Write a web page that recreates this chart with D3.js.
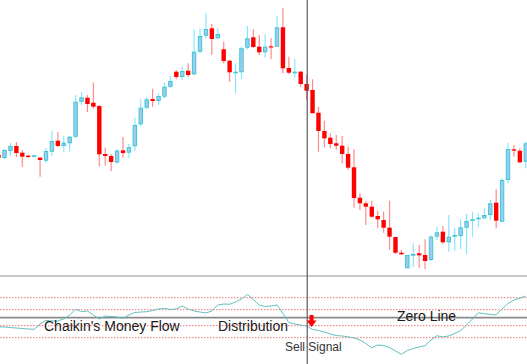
<!DOCTYPE html>
<html>
<head>
<meta charset="utf-8">
<script src="https://cdn.jsdelivr.net/npm/d3@7"></script>
<style>
  body { margin: 0; background: #fff; }
  svg { display: block; }
  text { font-family: "Liberation Sans", Arial, sans-serif; }
</style>
</head>
<body>
<div id="chart"></div>
<script>
var opens = [125,122,129,134,127.3,124.3,123.7,122.3,119.3,128.3,
  139.3,134,136.7,143.3,178.3,182.3,177.3,174,126,124,
  117.5,129.7,127.3,133.7,155.7,172.3,181,179,183.3,193.3,
  208.3,203,209.3,205.7,228.3,244.3,251.7,241.7,230.7,219.3,
  207,207.7,232.3,242.7,233.3,227.7,233.7,233.3,252.7,212,
  207.3,208.3,196,190,167.3,149,142.3,136.7,134.3,126,
  112.7,82.3,76.7,73.3,64,60,52.3,43,27.3,11.7,
  24.3,26.7,25,20,43.3,48.3,37.7,43.3,44,52.3,
  59,60.7,61.7,65,77.3,58.3,100,130.7,129.3,118.3];

var highs = [127,131,137,138,130,124.7,125,123.3,132,149,
  148,144,144.3,185,188,185,197.5,175,132.5,126,
  131,143,136,162.3,180.7,183,191.3,186.7,197.7,204,
  210,213.3,216.7,250.7,251.7,267.3,256,251.7,238.3,220,
  216.7,233.3,254,250.7,245,245.7,241.7,264.3,272.3,223.3,
  221,209,205,200.7,173.3,159.3,146.7,145,144,133.3,
  130.7,86.7,79.3,79.3,69.3,68.3,79.3,43.3,30,25,
  36.7,35,40.7,45,53.3,54,65,51.7,60.7,66,
  68.3,66.7,71.7,80,90.7,101.7,137.3,134.7,131.7,138.3];

var lows = [121,121,124,123,113,121.7,123,103.3,117,124.3,
  133,128.3,128.3,141.7,175,168,171.5,113.5,114.5,109,
  116.5,122.5,121.7,129,153.7,170.7,173.3,175,181.7,191.7,
  200.7,200,202.7,205,226.7,241.7,225,240.7,216.7,198.3,
  186.7,201,230.7,231.7,225,222.3,220.7,233.3,206.7,206,
  202.3,192.7,180,166.7,128.3,132.7,131.7,130,116.7,110,
  72.5,70,55,62.3,51.7,47.3,30,26,25,11.7,
  13.3,12.3,10.7,19,40,36,28.3,29.3,30.7,26,
  43.3,53.3,60.7,60,51.7,57.3,96.7,123.3,116.7,111.7];

var closes = [122.3,130,134,127,123.3,123,124.7,120,129,139,
  134,137.3,143.3,178.3,182.7,176,173.3,125.7,124,118,
  129.5,127,133,155,172.3,180.7,179,184,193.3,199,
  203,209,205,228.3,244,251,241,246,219,207.7,
  208.3,231.7,241.7,233,227.7,233.3,233,252.7,211.7,207.3,
  208.3,196,189.3,166.7,149,141.7,136,134.3,126,112.3,
  82,76.7,73.3,63.3,60.7,52.3,43.3,27.3,25.7,25,
  26,24.7,19,43.3,47.7,37.7,43.3,45,52.7,59,
  60.7,62.3,65,76.7,59.3,100,131,129.3,117.7,136.7];

// Chaikin's Money Flow, one value per bar
var cmf = [-0.113,-0.116,-0.123,-0.129,-0.135,-0.141,-0.145,-0.079,-0.033,-0.041,
  -0.041,-0.016,0.034,0.105,0.075,0.084,0.034,-0.016,0.021,0.015,
  0.009,-0.008,0.034,0.065,0.071,0.075,0.09,0.109,0.115,0.103,
  0.109,0.146,0.109,0.084,0.071,0.059,0.084,0.159,0.171,0.168,
  0.196,0.234,0.29,0.228,0.159,0.14,0.146,0.159,0.053,-0.06,
  -0.079,-0.091,-0.104,-0.148,-0.16,-0.179,-0.204,-0.223,-0.229,-0.238,
  -0.254,-0.279,-0.323,-0.375,-0.341,-0.348,-0.373,-0.416,-0.458,-0.41,
  -0.385,-0.366,-0.348,-0.279,-0.225,-0.241,-0.229,-0.198,-0.16,-0.091,
  -0.016,0.063,0.049,0.04,0.036,0.109,0.178,0.221,0.246,0.271];

var levels = [0.25, 0.1, -0.1, -0.25];
var signalBar = 52;

var width = 527;
var height = 364;
var bodyW = 4.4;

var candles = opens.map(function(o, i) {
  return {i: i, open: o, high: highs[i], low: lows[i], close: closes[i], up: closes[i] >= o};
});

/* Scales */
var xScale = d3.scaleLinear().domain([0, 89]).range([-1.4, 525.8]);
var yScale = d3.scaleLinear().domain([0, 280]).range([280, 0]);
var yCmf = d3.scaleLinear().domain([-0.5, 0.5]).range([357.7, 277.7]);

var svg = d3.select("#chart").append("svg")
  .attr("width", width)
  .attr("height", height);

svg.append("rect").attr("width", width).attr("height", height).attr("fill", "#fff");

/* Candles */
var g = svg.append("g").attr("class", "candles");

g.selectAll(".wick")
  .data(candles).enter()
  .append("line")
  .attr("x1", d => xScale(d.i))
  .attr("x2", d => xScale(d.i))
  .attr("y1", d => yScale(d.high))
  .attr("y2", d => yScale(d.low))
  .attr("stroke", d => d.up ? "#86e6ff" : "#ff8a8a")
  .attr("stroke-width", 1.2);

g.selectAll(".body-up")
  .data(candles.filter(d => d.up)).enter()
  .append("rect")
  .attr("x", d => xScale(d.i) - bodyW / 2 + 0.5)
  .attr("width", bodyW - 1)
  .attr("y", d => yScale(d.close) + 0.5)
  .attr("height", d => Math.max(0.6, yScale(d.open) - yScale(d.close) - 1))
  .attr("fill", "#9dcbf2")
  .attr("stroke", "#3ec8d2")
  .attr("stroke-width", 1);

g.selectAll(".body-down")
  .data(candles.filter(d => !d.up)).enter()
  .append("rect")
  .attr("x", d => xScale(d.i) - bodyW / 2)
  .attr("width", bodyW)
  .attr("y", d => yScale(d.open))
  .attr("height", d => Math.max(1.2, yScale(d.close) - yScale(d.open)))
  .attr("fill", "#ff0000");

/* Indicator panel */
svg.append("line")
  .attr("x1", 0).attr("x2", width)
  .attr("y1", 276).attr("y2", 276)
  .attr("stroke", "#c8c8c8")
  .attr("stroke-width", 2);

svg.selectAll(".level")
  .data(levels).enter()
  .append("line")
  .attr("x1", 0).attr("x2", width)
  .attr("y1", d => yCmf(d)).attr("y2", d => yCmf(d))
  .attr("stroke", "#ee7070")
  .attr("stroke-width", 1)
  .attr("stroke-dasharray", "1.5,1.5");

svg.append("line")
  .attr("x1", 0).attr("x2", width)
  .attr("y1", yCmf(0)).attr("y2", yCmf(0))
  .attr("stroke", "#8a8a8a")
  .attr("stroke-width", 1.8);

var cmfLine = d3.line()
  .x((d, i) => xScale(i))
  .y(d => yCmf(d));

svg.append("path")
  .attr("d", cmfLine(cmf))
  .attr("fill", "none")
  .attr("stroke", "#62c0c0")
  .attr("stroke-width", 1);

/* Signal marker */
var sx = xScale(signalBar) + 0.6;
svg.append("line")
  .attr("x1", sx).attr("x2", sx)
  .attr("y1", 0).attr("y2", height)
  .attr("stroke", "#5a5a5a")
  .attr("stroke-width", 1.2);

var ax = xScale(signalBar + 1) - 1, ay = yCmf(0.034);
svg.append("path")
  .attr("d", `M${ax-2},${ay} L${ax+2},${ay} L${ax+2},${ay+5.5} L${ax+5},${ay+5.5} L${ax},${ay+12} L${ax-5},${ay+5.5} L${ax-2},${ay+5.5} Z`)
  .attr("fill", "#ff0000");

/* Labels */
svg.append("text").attr("x", 44).attr("y", 331)
  .attr("font-size", "14px").attr("fill", "#1a1a1a")
  .text("Chaikin's Money Flow");

svg.append("text").attr("x", 218).attr("y", 331)
  .attr("font-size", "14px").attr("fill", "#1a1a1a")
  .text("Distribution");

svg.append("text").attr("x", 397).attr("y", 321)
  .attr("font-size", "14px").attr("fill", "#1a1a1a")
  .text("Zero Line");

svg.append("text").attr("x", 285).attr("y", 351)
  .attr("font-size", "12px").attr("fill", "#333")
  .text("Sell Signal");
</script>
</body>
</html>
